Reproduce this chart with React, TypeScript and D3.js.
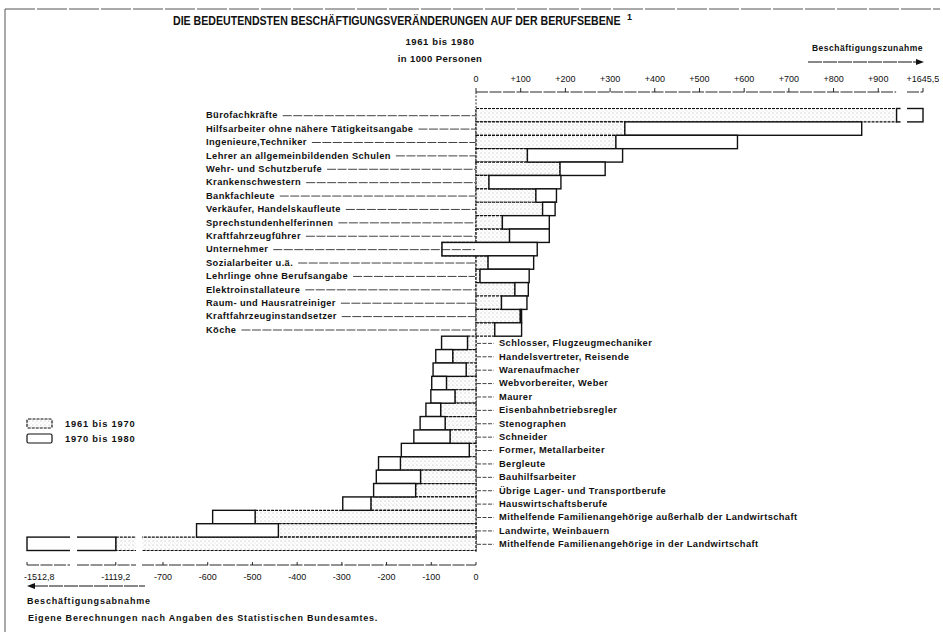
import React, { useRef, useEffect } from 'react';
import * as d3 from 'd3';

// Berufe mit Zunahme (oben) und Abnahme (unten), Veränderung in 1000 Personen
const gainJobs = [
  'Bürofachkräfte',
  'Hilfsarbeiter ohne nähere Tätigkeitsangabe',
  'Ingenieure,Techniker',
  'Lehrer an allgemeinbildenden Schulen',
  'Wehr- und Schutzberufe',
  'Krankenschwestern',
  'Bankfachleute',
  'Verkäufer, Handelskaufleute',
  'Sprechstundenhelferinnen',
  'Kraftfahrzeugführer',
  'Unternehmer',
  'Sozialarbeiter u.ä.',
  'Lehrlinge ohne Berufsangabe',
  'Elektroinstallateure',
  'Raum- und Hausratreiniger',
  'Kraftfahrzeuginstandsetzer',
  'Köche',
];
const gain6170 = [941, 333, 313, 115, 188, 29, 134, 149, 59, 75, -76, 27, 9, 87, 57, 99, 42];
const gain7080 = [704.5, 530, 272, 213, 101, 161, 46, 28, 105, 89, 213, 102, 110, 30, 57, 3, 60];

const lossJobs = [
  'Schlosser, Flugzeugmechaniker',
  'Handelsvertreter, Reisende',
  'Warenaufmacher',
  'Webvorbereiter, Weber',
  'Maurer',
  'Eisenbahnbetriebsregler',
  'Stenographen',
  'Schneider',
  'Former, Metallarbeiter',
  'Bergleute',
  'Bauhilfsarbeiter',
  'Übrige Lager- und Transportberufe',
  'Hauswirtschaftsberufe',
  'Mithelfende Familienangehörige außerhalb der Landwirtschaft',
  'Landwirte, Weinbauern',
  'Mithelfende Familienangehörige in der Landwirtschaft',
];
const loss6170 = [-19, -52, -22, -66, -47, -79, -69, -58, -15, -169, -124, -135, -235, -494, -442, -1119.2];
const loss7080 = [-58, -38, -74, -33, -54, -33, -56, -81, -152, -49, -99, -94, -63, -95, -183, -393.6];

const topTicks = [0, 100, 200, 300, 400, 500, 600, 700, 800, 900, 1645.5];
const bottomTicks = [-1512.8, -1119.2, -700, -600, -500, -400, -300, -200, -100, 0];

const legendLabels = ['1961 bis 1970', '1970 bis 1980'];

const fmt = (v: number) =>
  v === 0 ? '0' : (v > 0 ? '+' : '-') + String(Math.abs(v)).replace('.', ',');

function App() {
  const ref = useRef<SVGSVGElement>(null);

  useEffect(() => {
    const svg = d3.select(ref.current);
    svg.selectAll('*').remove();
    const font = 'Liberation Sans, Arial, sans-serif';
    const ink = '#111';

    // gebrochene Achse: drei Stücke links, zwei rechts
    const x = d3.scaleLinear()
      .domain([-1512.8, -1416, -1206, -1074, -747, 0, 950, 1610, 1645.5])
      .range([27, 70, 77, 136, 142, 476, 900.6, 907, 923]);
    const topSegs = [[0, 940], [1610, 1645.5]];
    const bottomSegs = [[-1512.8, -1416], [-1206, -1074], [-747, 0]];

    const rows = [
      ...gainJobs.map((name, i) => ({ name, a: gain6170[i], b: gain7080[i], up: true })),
      ...lossJobs.map((name, i) => ({ name, a: loss6170[i], b: loss7080[i], up: false })),
    ];
    const y = d3.scaleBand().domain(rows.map(d => d.name)).range([108.5, 550.5]).padding(0);
    const bw = y.bandwidth();

    const defs = svg.append('defs');
    const pat = defs.append('pattern').attr('id', 'dots')
      .attr('width', 4).attr('height', 4).attr('patternUnits', 'userSpaceOnUse');
    pat.append('rect').attr('width', 4).attr('height', 4).attr('fill', '#fff');
    pat.append('circle').attr('cx', 1).attr('cy', 1).attr('r', 0.5).attr('fill', '#9a9a9a');
    pat.append('circle').attr('cx', 3).attr('cy', 3).attr('r', 0.45).attr('fill', '#b5b5b5');

    // Rahmen
    svg.append('line').attr('x1', 5).attr('x2', 940).attr('y1', 9).attr('y2', 9)
      .attr('stroke', '#555').attr('stroke-width', 1).attr('stroke-dasharray', '30 2');
    svg.append('line').attr('x1', 5).attr('x2', 5).attr('y1', 9).attr('y2', 632)
      .attr('stroke', '#555').attr('stroke-width', 1);

    // Titel, schmal gestaucht auf 448px
    const tG = svg.append('g');
    const title = tG.append('text').attr('x', 0).attr('y', 0)
      .attr('font-family', font).attr('font-size', 12).attr('font-weight', 'bold').attr('fill', ink)
      .text('DIE BEDEUTENDSTEN BESCHÄFTIGUNGSVERÄNDERUNGEN AUF DER BERUFSEBENE');
    const tw = (title.node() as SVGTextElement).getComputedTextLength() || 448;
    tG.attr('transform', `translate(173,25) scale(${448 / tw},1)`);
    svg.append('text').attr('x', 627).attr('y', 20)
      .attr('font-family', font).attr('font-size', 9).attr('font-weight', 'bold').attr('fill', ink).text('1');

    svg.append('text').attr('x', 440).attr('y', 45).attr('text-anchor', 'middle')
      .attr('font-family', font).attr('font-size', 9.5).attr('font-weight', 'bold')
      .attr('letter-spacing', 0.6).attr('fill', ink)
      .text('1961 bis 1980');
    svg.append('text').attr('x', 440).attr('y', 62).attr('text-anchor', 'middle')
      .attr('font-family', font).attr('font-size', 9.5).attr('font-weight', 'bold')
      .attr('letter-spacing', 0.4).attr('fill', ink)
      .text('in 1000 Personen');

    // Zunahme-Pfeil
    svg.append('text').attr('x', 923).attr('y', 51).attr('text-anchor', 'end')
      .attr('font-family', font).attr('font-size', 8.5).attr('font-weight', 'bold')
      .attr('letter-spacing', 0.5).attr('fill', ink)
      .text('Beschäftigungszunahme');
    svg.append('line').attr('x1', 808).attr('x2', 917).attr('y1', 62).attr('y2', 62)
      .attr('stroke', ink).attr('stroke-width', 1).attr('stroke-dasharray', '14 1');
    svg.append('path').attr('d', 'M924,62 L916,59 L916,65 Z').attr('fill', ink);

    // obere Achse
    const topY = 92;
    topSegs.forEach(s => {
      svg.append('line').attr('x1', x(s[0])).attr('x2', x(s[1])).attr('y1', topY).attr('y2', topY)
        .attr('stroke', ink).attr('stroke-width', 0.9).attr('stroke-dasharray', '12 1.5');
    });
    const tg = svg.append('g').selectAll('g').data(topTicks).enter().append('g');
    tg.append('line').attr('x1', d => x(d)).attr('x2', d => x(d))
      .attr('y1', topY - 4).attr('y2', topY).attr('stroke', ink).attr('stroke-width', 0.9);
    tg.append('text').attr('x', d => x(d)).attr('y', topY - 10).attr('text-anchor', 'middle')
      .attr('font-family', font).attr('font-size', 9).attr('fill', ink).text(d => fmt(d));

    // untere Achse
    const botY = 565;
    bottomSegs.forEach(s => {
      svg.append('line').attr('x1', x(s[0])).attr('x2', x(s[1])).attr('y1', botY).attr('y2', botY)
        .attr('stroke', ink).attr('stroke-width', 0.9).attr('stroke-dasharray', '12 1.5');
    });
    const bg = svg.append('g').selectAll('g').data(bottomTicks).enter().append('g');
    bg.append('line').attr('x1', d => x(d)).attr('x2', d => x(d))
      .attr('y1', botY - 3).attr('y2', botY).attr('stroke', ink).attr('stroke-width', 0.9);
    bg.append('text').attr('x', d => x(d)).attr('y', botY + 15)
      .attr('text-anchor', d => (d === -1512.8 ? 'start' : 'middle'))
      .attr('dx', d => (d === -1512.8 ? -3 : 0))
      .attr('font-family', font).attr('font-size', 9).attr('fill', ink).text(d => fmt(d));

    // Nulllinie
    svg.append('line').attr('x1', x(0)).attr('x2', x(0)).attr('y1', topY).attr('y2', 552)
      .attr('stroke', ink).attr('stroke-width', 0.9).attr('stroke-dasharray', '2 1.5');

    // Balken: 1961-70 punktiert ab 0, 1970-80 weiß anschließend
    const bars = svg.append('g');
    rows.forEach(d => {
      const y0 = y(d.name)!;
      bars.append('rect')
        .attr('x', x(Math.min(0, d.a))).attr('y', y0)
        .attr('width', Math.abs(x(d.a) - x(0))).attr('height', bw)
        .attr('fill', 'url(#dots)').attr('stroke', ink).attr('stroke-width', 1.2)
        .attr('stroke-dasharray', '3 1');
    });
    rows.forEach(d => {
      const y0 = y(d.name)!;
      const e = d.a + d.b;
      bars.append('rect')
        .attr('x', x(Math.min(d.a, e))).attr('y', y0)
        .attr('width', Math.abs(x(e) - x(d.a))).attr('height', bw)
        .attr('fill', '#fff').attr('stroke', ink).attr('stroke-width', 1.4);
    });

    // Lücken der gebrochenen Achse
    const gaps: [number, number, string, number][] = [
      [-1416, -1206, rows[rows.length - 1].name, botY],
      [-1074, -747, rows[rows.length - 1].name, botY],
      [950, 1610, rows[0].name, topY],
    ];
    gaps.forEach(([a, b, name, ay]) => {
      const y0 = y(name)!;
      svg.append('rect').attr('x', x(a)).attr('width', x(b) - x(a))
        .attr('y', y0 - 2).attr('height', bw + 4).attr('fill', '#fff');
      svg.append('rect').attr('x', x(a)).attr('width', x(b) - x(a))
        .attr('y', ay - 2).attr('height', 4).attr('fill', '#fff');
    });

    // Beschriftung mit Führungslinien
    const lab = svg.append('g');
    rows.forEach(d => {
      const cy = y(d.name)! + bw / 2;
      if (d.up) {
        const t = lab.append('text').attr('x', 206).attr('y', cy + 3.3)
          .attr('font-family', font).attr('font-size', 9.3).attr('font-weight', 'bold')
          .attr('letter-spacing', 0.4).attr('fill', ink).text(d.name);
        const w = (t.node() as SVGTextElement).getComputedTextLength();
        lab.append('line').attr('x1', 206 + w + 5).attr('x2', x(0) - 1)
          .attr('y1', cy + 0.5).attr('y2', cy + 0.5)
          .attr('stroke', ink).attr('stroke-width', 0.8).attr('stroke-dasharray', '9 1.5');
      } else {
        lab.append('line').attr('x1', x(0) + 1).attr('x2', 494)
          .attr('y1', cy + 0.5).attr('y2', cy + 0.5)
          .attr('stroke', ink).attr('stroke-width', 0.8).attr('stroke-dasharray', '4 1.5');
        lab.append('text').attr('x', 499).attr('y', cy + 3.3)
          .attr('font-family', font).attr('font-size', 9.3).attr('font-weight', 'bold')
          .attr('letter-spacing', 0.4).attr('fill', ink).text(d.name);
      }
    });

    // Legende
    const lg = svg.append('g');
    legendLabels.forEach((t, i) => {
      const ly = 419 + i * 15;
      lg.append('rect').attr('x', 27).attr('y', ly).attr('width', 25).attr('height', 9)
        .attr('rx', 1.5)
        .attr('fill', i === 0 ? 'url(#dots)' : '#fff').attr('stroke', ink)
        .attr('stroke-width', 1.2).attr('stroke-dasharray', i === 0 ? '3 1' : null);
      lg.append('text').attr('x', 65).attr('y', ly + 8)
        .attr('font-family', font).attr('font-size', 9.3).attr('font-weight', 'bold')
        .attr('letter-spacing', 0.8).attr('fill', ink).text(t);
    });

    // Abnahme-Pfeil
    svg.append('line').attr('x1', 34).attr('x2', 145).attr('y1', 586).attr('y2', 586)
      .attr('stroke', ink).attr('stroke-width', 1).attr('stroke-dasharray', '14 1');
    svg.append('path').attr('d', 'M27,586 L35,583 L35,589 Z').attr('fill', ink);
    svg.append('text').attr('x', 27).attr('y', 604)
      .attr('font-family', font).attr('font-size', 9).attr('font-weight', 'bold')
      .attr('letter-spacing', 0.8).attr('fill', ink)
      .text('Beschäftigungsabnahme');

    svg.append('text').attr('x', 28).attr('y', 621)
      .attr('font-family', font).attr('font-size', 9).attr('font-weight', 'bold')
      .attr('letter-spacing', 0.8).attr('fill', ink)
      .text('Eigene Berechnungen nach Angaben des Statistischen Bundesamtes.');
  }, []);

  return (
    <svg
      ref={ref}
      width={943}
      height={632}
      style={{ position: 'absolute', left: 0, top: 0, background: '#fff' }}
    />
  );
}

export default App;
